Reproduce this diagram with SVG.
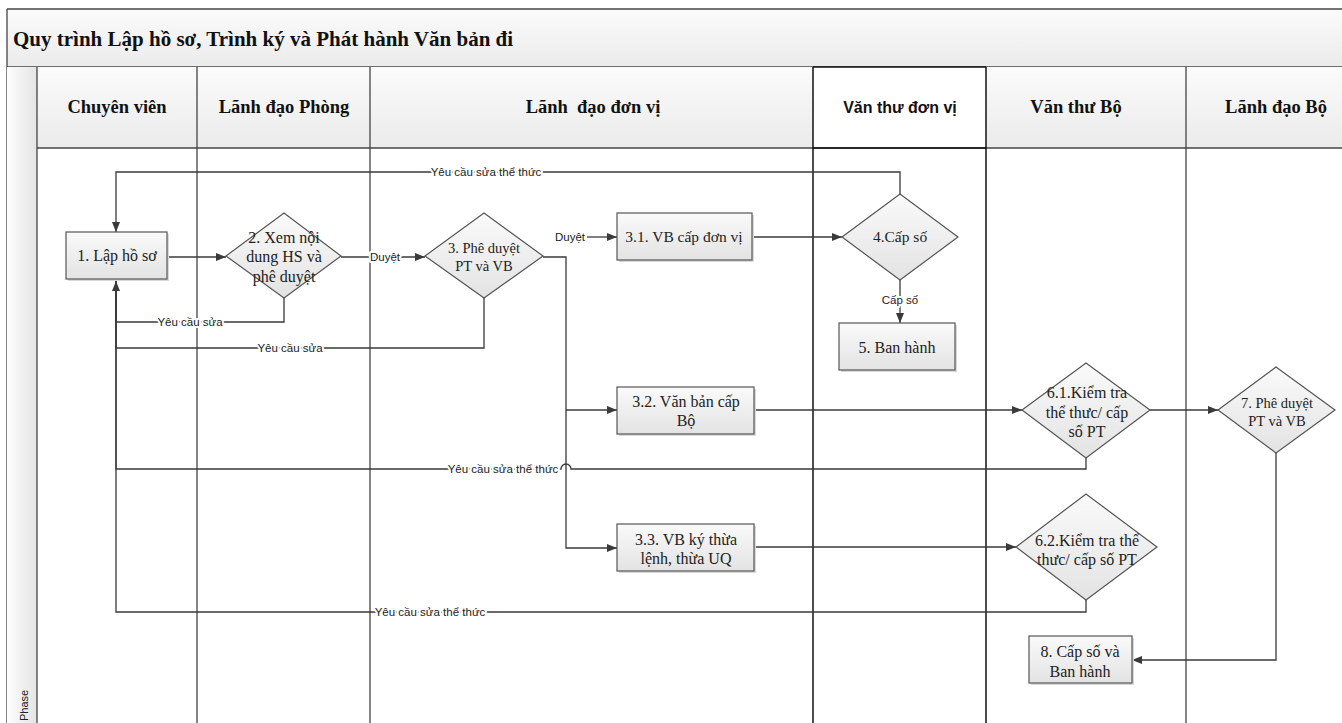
<svg xmlns="http://www.w3.org/2000/svg" width="1342" height="723" viewBox="0 0 1342 723">
<defs>
<linearGradient id="gBar" x1="0" y1="0" x2="0" y2="1"><stop offset="0" stop-color="#fbfbfb"/><stop offset="1" stop-color="#ebebeb"/></linearGradient>
<linearGradient id="gPhase" x1="0" y1="0" x2="1" y2="0"><stop offset="0" stop-color="#fdfdfd"/><stop offset="1" stop-color="#e4e4e4"/></linearGradient>
<linearGradient id="gNode" x1="0" y1="0" x2="0" y2="1"><stop offset="0" stop-color="#fafafa"/><stop offset="1" stop-color="#e3e3e3"/></linearGradient>
<marker id="arr" viewBox="0 0 10 10" refX="10" refY="5" markerWidth="10" markerHeight="10" markerUnits="userSpaceOnUse" orient="auto"><path d="M0,1 L10,5 L0,9 z" fill="#3a3a3a"/></marker>
</defs>
<style>
.lane{stroke:#444;stroke-width:1.3;fill:none}
.laneB{stroke:#111;stroke-width:1.5;fill:none}
.hdr{font-family:"Liberation Serif","Times New Roman",serif;font-weight:bold;font-size:18.5px;fill:#111;text-anchor:middle}
.hdrS{font-family:"Liberation Sans",Arial,sans-serif;font-weight:bold;font-size:16px;fill:#111;text-anchor:middle}
.node{fill:url(#gNode);stroke:#555;stroke-width:1.2}
.shadow{fill:#d9d9d9;stroke:none}
.nt{font-family:"Liberation Serif","Times New Roman",serif;font-size:15.5px;fill:#222;text-anchor:middle}
.nl{font-size:16px}
.ns{font-size:14.5px}
.con{stroke:#3a3a3a;stroke-width:1.3;fill:none}
.lbl{font-family:"Liberation Sans",Arial,sans-serif;font-size:11.5px;fill:#222;text-anchor:middle;stroke:#fff;stroke-width:4;paint-order:stroke;stroke-linejoin:round}
</style>
<rect width="1342" height="723" fill="#fff"/>
<g id="pool">
<rect x="7" y="9" width="1340" height="58" fill="url(#gBar)"/>
<line x1="7" y1="9" x2="1342" y2="9" class="lane"/>
<line x1="7" y1="9" x2="7" y2="723" class="lane"/>
<line x1="7" y1="67" x2="1342" y2="67" class="lane"/>
<text x="13" y="46" font-family="Liberation Serif,Times New Roman,serif" font-weight="bold" font-size="21" fill="#111">Quy trình Lập hồ sơ, Trình ký và Phát hành Văn bản đi</text>
<rect x="7" y="67" width="30" height="656" fill="url(#gPhase)"/>
<text transform="translate(28,721) rotate(-90)" font-family="Liberation Sans,Arial,sans-serif" font-size="11" fill="#222">Phase</text>
<rect x="37" y="67" width="1305" height="81" fill="url(#gBar)"/>
<rect x="813" y="67" width="173" height="81" fill="#fff"/>
<line x1="37" y1="148" x2="1342" y2="148" class="lane"/>
<line x1="37" y1="67" x2="37" y2="723" class="lane"/>
<line x1="197" y1="67" x2="197" y2="723" class="lane"/>
<line x1="370" y1="67" x2="370" y2="723" class="lane"/>
<line x1="1186" y1="67" x2="1186" y2="723" class="lane"/>
<line x1="813" y1="67" x2="813" y2="723" class="laneB"/>
<line x1="986" y1="67" x2="986" y2="723" class="laneB"/>
<line x1="813" y1="67" x2="986" y2="67" class="laneB"/>
<line x1="813" y1="148" x2="986" y2="148" class="laneB"/>
<text x="117" y="113" class="hdr">Chuyên viên</text>
<text x="284" y="113" class="hdr">Lãnh đạo Phòng</text>
<text x="593" y="113" class="hdr" xml:space="preserve">Lãnh  đạo đơn vị</text>
<text x="900" y="113" class="hdrS">Văn thư đơn vị</text>
<text x="1076" y="113" class="hdr">Văn thư Bộ</text>
<text x="1276" y="113" class="hdr">Lãnh đạo Bộ</text>
</g>
<g id="connectors">
<path class="con" d="M900,194 V172 H116 V232" marker-end="url(#arr)"/>
<path class="con" d="M167,257 H226" marker-end="url(#arr)"/>
<path class="con" d="M284,298 V322 H116 V281" marker-end="url(#arr)"/>
<path class="con" d="M484,298 V348 H116 V262" marker-end="url(#arr)"/>
<path class="con" d="M341,257 H425" marker-end="url(#arr)"/>
<path class="con" d="M543,257 H566 V548 H617" marker-end="url(#arr)"/>
<path class="con" d="M566,410 H617" marker-end="url(#arr)"/>
<path class="con" d="M587,237 H617" marker-end="url(#arr)"/>
<path class="con" d="M752,237 H842" marker-end="url(#arr)"/>
<path class="con" d="M900,280 V323" marker-end="url(#arr)"/>
<path class="con" d="M754,410 H1022" marker-end="url(#arr)"/>
<path class="con" d="M1086,458 V469 H571 A5,5 0 0 0 561,469 H116 V281"/>
<path class="con" d="M754,547 H1016" marker-end="url(#arr)"/>
<path class="con" d="M1086,600 V612 H116 V281"/>
<path class="con" d="M1150,410 H1218" marker-end="url(#arr)"/>
<path class="con" d="M1276,453 V660 H1132" marker-end="url(#arr)"/>
<text x="486" y="176" class="lbl">Yêu cầu sửa thể thức</text>
<text x="190" y="326" class="lbl">Yêu cầu sửa</text>
<text x="290" y="352" class="lbl">Yêu cầu sửa</text>
<text x="385" y="261" class="lbl">Duyệt</text>
<text x="570" y="241" class="lbl">Duyệt</text>
<text x="900" y="304" class="lbl">Cấp số</text>
<text x="503" y="473" class="lbl">Yêu cầu sửa thể thức</text>
<text x="430" y="616" class="lbl">Yêu cầu sửa thể thức</text>
</g>
<g id="n1">
<rect x="68" y="234" width="101" height="47" class="shadow"/>
<rect x="66" y="232" width="101" height="47" class="node"/>
<text x="117" y="261" class="nt nl">1. Lập hồ sơ</text>
</g>
<g id="n2">
<path d="M226,256 L284,213 L341,256 L284,298 Z" class="node"/>
<text x="284" y="243" class="nt nl">2. Xem nội</text>
<text x="284" y="262" class="nt nl">dung HS và</text>
<text x="284" y="282" class="nt nl">phê duyệt</text>
</g>
<g id="n3">
<path d="M425,256 L484,213 L543,256 L484,298 Z" class="node"/>
<text x="484" y="253" class="nt ns">3. Phê duyệt</text>
<text x="484" y="271" class="nt ns">PT và VB</text>
</g>
<g id="n31">
<rect x="619" y="215" width="135" height="47" class="shadow"/>
<rect x="617" y="213" width="135" height="47" class="node"/>
<text x="684" y="242" class="nt">3.1. VB cấp đơn vị</text>
</g>
<g id="n4">
<path d="M842,237 L900,194 L958,237 L900,280 Z" class="node"/>
<text x="900" y="242" class="nt">4.Cấp số</text>
</g>
<g id="n5">
<rect x="841" y="325" width="116" height="47" class="shadow"/>
<rect x="839" y="323" width="116" height="47" class="node"/>
<text x="897" y="353" class="nt nl">5. Ban hành</text>
</g>
<g id="n32">
<rect x="619" y="389" width="137" height="47" class="shadow"/>
<rect x="617" y="387" width="137" height="47" class="node"/>
<text x="686" y="407" class="nt nl">3.2. Văn bản cấp</text>
<text x="686" y="426" class="nt nl">Bộ</text>
</g>
<g id="n33">
<rect x="619" y="526" width="137" height="47" class="shadow"/>
<rect x="617" y="524" width="137" height="47" class="node"/>
<text x="686" y="545" class="nt nl">3.3. VB ký thừa</text>
<text x="686" y="564" class="nt nl">lệnh, thừa UQ</text>
</g>
<g id="n61">
<path d="M1022,410 L1086,363 L1150,410 L1086,458 Z" class="node"/>
<text x="1087" y="398" class="nt nl">6.1.Kiểm tra</text>
<text x="1087" y="418" class="nt nl">thể thưc/ cấp</text>
<text x="1087" y="437" class="nt nl">số PT</text>
</g>
<g id="n62">
<path d="M1016,547 L1086,494 L1157,547 L1086,600 Z" class="node"/>
<text x="1087" y="546" class="nt nl">6.2.Kiểm tra thể</text>
<text x="1087" y="565" class="nt nl">thưc/ cấp số PT</text>
</g>
<g id="n7">
<path d="M1218,410 L1276,367 L1335,410 L1276,453 Z" class="node"/>
<text x="1277" y="408" class="nt ns">7. Phê duyệt</text>
<text x="1277" y="426" class="nt ns">PT và VB</text>
</g>
<g id="n8">
<rect x="1031" y="638" width="103" height="47" class="shadow"/>
<rect x="1029" y="636" width="103" height="47" class="node"/>
<text x="1080" y="657" class="nt nl">8. Cấp số và</text>
<text x="1080" y="677" class="nt nl">Ban hành</text>
</g>
</svg>
